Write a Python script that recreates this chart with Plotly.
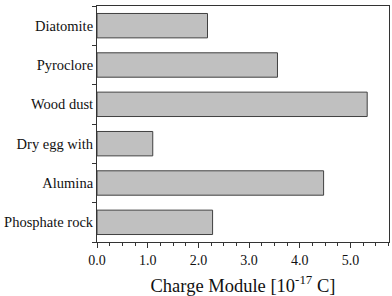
import plotly.graph_objects as go

categories = ["Phosphate rock", "Alumina", "Dry egg with", "Wood dust", "Pyroclore", "Diatomite"]
values = [2.28, 4.47, 1.10, 5.33, 3.56, 2.18]
x_ticks = [0, 1, 2, 3, 4, 5]
x_tick_labels = ["0.0", "1.0", "2.0", "3.0", "4.0", "5.0"]

fig = go.Figure(go.Bar(
    x=values, y=categories, orientation="h",
    marker=dict(color="#c0c0c0", line=dict(color="#404040", width=1)),
    width=0.62,
))

font = "Liberation Serif"
fig.update_layout(
    width=392, height=296,
    margin=dict(l=97, r=3, t=6, b=54),
    paper_bgcolor="white", plot_bgcolor="white",
    font=dict(family=font, color="#111111", size=14),
    showlegend=False,
)
fig.update_xaxes(
    range=[0, 5.76], tickvals=x_ticks, ticktext=x_tick_labels,
    ticks="outside", ticklen=5, tickcolor="#333333",
    minor=dict(dtick=0.25, tick0=0, ticks="outside", ticklen=3, tickcolor="#333333"),
    showline=True, linecolor="#333333", linewidth=1, mirror=True,
    showgrid=False, zeroline=False,
    title=dict(text="Charge Module [10<sup>-17</sup> C]", font=dict(size=18.5, family=font, color="#111111"), standoff=12),
    tickfont=dict(size=14, family=font, color="#111111"),
)
fig.update_yaxes(
    categoryorder="array", categoryarray=categories,
    tickson="boundaries", ticks="outside", ticklen=4, tickcolor="#333333",
    showline=True, linecolor="#333333", linewidth=1, mirror=True,
    showgrid=False, zeroline=False,
    tickfont=dict(size=14.5, family=font, color="#111111"),
)

fig.write_html("out.html")
